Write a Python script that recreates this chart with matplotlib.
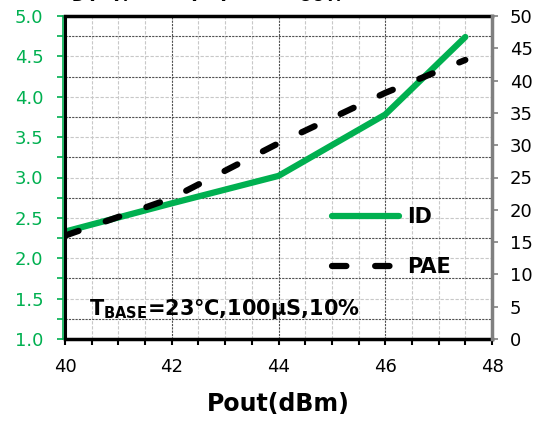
import numpy as np
import matplotlib.pyplot as plt
from matplotlib.ticker import MultipleLocator

# drain current (A, left axis) and PAE (%, right axis) against output power
pout_dbm = [40, 42, 44, 46, 47.5]
id_amps = [2.33, 2.68, 3.02, 3.78, 4.74]
pae_pct = [16.0, 21.8, 30.3, 38.1, 43.2]

x_ticks = [40, 42, 44, 46, 48]
id_ticks = [1.0, 1.5, 2.0, 2.5, 3.0, 3.5, 4.0, 4.5, 5.0]
pae_ticks = [0, 5, 10, 15, 20, 25, 30, 35, 40, 45, 50]

GREEN = '#00B050'
W, H = 543, 421

plt.rcParams['font.family'] = 'DejaVu Sans'

fig = plt.figure(figsize=(W / 100, H / 100), dpi=100)
ax = fig.add_axes([65 / W, 1 - 339 / H, 427 / W, 323 / H])
ax2 = ax.twinx()

ax.set_xlim(40, 48)
ax.set_ylim(1, 5)
ax2.set_ylim(0, 50)

# two-tone grid: dark dashed and light dashed
for x in np.arange(40.5, 48, 0.5):
    dark = x % 2 == 0
    ax.axvline(x, color='#505050' if dark else '#c8c8c8', lw=0.8,
               dashes=(2, 1) if dark else (3, 1.5), zorder=0)
for y in np.arange(1.25, 5, 0.25):
    dark = round((y - 1.25) / 0.25) % 2 == 0
    ax.axhline(y, color='#505050' if dark else '#c8c8c8', lw=0.8,
               dashes=(2, 1) if dark else (3, 1.5), zorder=0)

l1, = ax.plot(pout_dbm, id_amps, color=GREEN, lw=4.5, solid_capstyle='round',
              solid_joinstyle='round', label='ID', zorder=3)
l2, = ax2.plot(pout_dbm, pae_pct, color='black', lw=4.5, dashes=(2.3, 4.6),
               dash_capstyle='round', label='PAE', zorder=4)

# spines
for s in ['top', 'bottom']:
    ax.spines[s].set_linewidth(2.5)
    ax.spines[s].set_color('black')
ax.spines['right'].set_visible(False)
ax.spines['left'].set_color(GREEN)
ax.spines['left'].set_linewidth(1.2)
ax.spines['left'].set_position(('outward', 1.5))
ax.axvline(40, color='black', lw=2.2, clip_on=False, zorder=5)
for s in ['left', 'top', 'bottom']:
    ax2.spines[s].set_visible(False)
ax2.spines['right'].set_color('#808080')
ax2.spines['right'].set_linewidth(2.5)

# ticks
ax.set_xticks(x_ticks)
ax.xaxis.set_minor_locator(MultipleLocator(0.5))
ax.tick_params(axis='x', which='both', length=4, width=1.5, color='black',
               labelsize=13, pad=10)
ax.set_yticks(id_ticks)
ax.set_yticklabels([f'{v:.1f}' for v in id_ticks])
ax.yaxis.set_minor_locator(MultipleLocator(0.25))
ax.tick_params(axis='y', which='both', length=4, width=1.2, color=GREEN,
               labelcolor=GREEN, labelsize=13, pad=10)
ax2.set_yticks(pae_ticks)
ax2.tick_params(axis='y', length=4, width=1.2, color='#808080',
                labelcolor='black', labelsize=13, pad=9)

ax.set_xlabel('Pout(dBm)', fontsize=17, fontweight='bold', labelpad=11)

ax.text(40.45, 1.3, r'$\mathbf{T_{BASE}}$=23℃,100μS,10%', fontsize=15,
        fontweight='bold', ha='left', va='baseline', zorder=6)

ax2.legend(handles=[l1, l2], loc='center left', bbox_to_anchor=(0.625, 0.30),
           frameon=False, borderpad=0, borderaxespad=0,
           handlelength=3.2, handletextpad=0.4, labelspacing=1.45,
           prop={'weight': 'bold', 'size': 15})

# title, mostly above the top edge of the figure
fig.text(63 / W, 1 + 2 / H, r'I$_\mathbf{D}$(A), PAE(%) vs. P$_\mathbf{OUT}$,',
         fontsize=16, fontweight='bold', ha='left', va='baseline')

fig.savefig('out.png', dpi=100)
